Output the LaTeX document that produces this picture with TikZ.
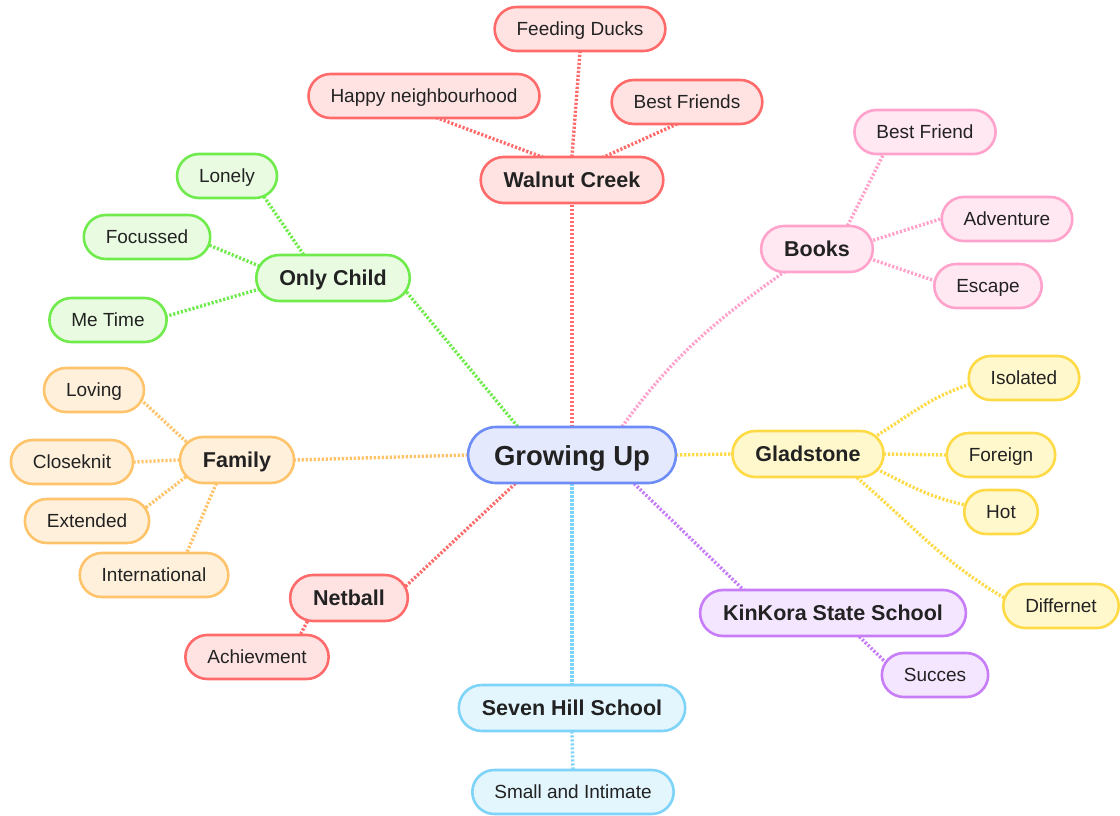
\documentclass[tikz,border=0pt]{standalone}
\usepackage{fontspec}
\setmainfont{Liberation Sans}
\usetikzlibrary{backgrounds}
\definecolor{rootline}{HTML}{6E8CF5}
\definecolor{rootfill}{HTML}{E5E9FD}
\definecolor{redline}{HTML}{FF6B6B}
\definecolor{redfill}{HTML}{FFE3E3}
\definecolor{pinkline}{HTML}{FFA3CC}
\definecolor{pinkfill}{HTML}{FFE8F2}
\definecolor{greenline}{HTML}{6FEB4C}
\definecolor{greenfill}{HTML}{E9FCE2}
\definecolor{orangeline}{HTML}{FFC46B}
\definecolor{orangefill}{HTML}{FFF0DB}
\definecolor{yellowline}{HTML}{FFDA47}
\definecolor{yellowfill}{HTML}{FFF8CC}
\definecolor{purpleline}{HTML}{C77DF7}
\definecolor{purplefill}{HTML}{F5E6FF}
\definecolor{cyanline}{HTML}{7DD3F8}
\definecolor{cyanfill}{HTML}{E3F6FE}
\definecolor{ink}{HTML}{222222}
\begin{document}
\begin{tikzpicture}[x=1pt,y=1pt]
    \tikzstyle{every node}=[rectangle,line width=2.6pt,text=ink]
    \tikzstyle{root}=[rounded corners=28pt,minimum height=56pt,inner xsep=26pt,text height=20pt,text depth=0pt,font=\fontsize{27.5}{30}\selectfont\bfseries,draw=rootline,fill=rootfill]
    \tikzstyle{topic}=[rounded corners=23pt,minimum height=46pt,inner xsep=23pt,text height=15.5pt,text depth=0pt,font=\fontsize{21.5}{24}\selectfont\bfseries]
    \tikzstyle{leaf}=[rounded corners=22pt,minimum height=44pt,inner xsep=22pt,text height=13.8pt,text depth=0pt,font=\fontsize{19}{22}\selectfont]
    \tikzstyle{tred}=[draw=redline,fill=redfill]
    \tikzstyle{tpink}=[draw=pinkline,fill=pinkfill]
    \tikzstyle{tgreen}=[draw=greenline,fill=greenfill]
    \tikzstyle{torange}=[draw=orangeline,fill=orangefill]
    \tikzstyle{tyellow}=[draw=yellowline,fill=yellowfill]
    \tikzstyle{tpurple}=[draw=purpleline,fill=purplefill]
    \tikzstyle{tcyan}=[draw=cyanline,fill=cyanfill]
    \tikzstyle{link}=[line width=3.4pt,dash pattern=on 2.2pt off 1.8pt,shorten <=-9pt,shorten >=-9pt]
    \useasboundingbox (0,0) rectangle (1120,-816);
    % centre
    \draw (572,-455) node [root] (gu) {Growing Up};
    % Walnut Creek
    \draw (572,-180) node [topic,tred] (wc) {Walnut Creek};
    \draw (580,-29) node [leaf,tred] (fd) {Feeding Ducks};
    \draw (424,-96) node [leaf,tred] (hn) {Happy neighbourhood};
    \draw (687,-102) node [leaf,tred] (bf) {Best Friends};
    % Books
    \draw (817,-249) node [topic,tpink] (bk) {Books};
    \draw (925,-132) node [leaf,tpink] (bfr) {Best Friend};
    \draw (1007,-219) node [leaf,tpink] (adv) {Adventure};
    \draw (988,-286) node [leaf,tpink] (esc) {Escape};
    % Only Child
    \draw (333,-278) node [topic,tgreen] (oc) {Only Child};
    \draw (227,-176) node [leaf,tgreen] (lon) {Lonely};
    \draw (147,-237) node [leaf,tgreen] (foc) {Focussed};
    \draw (108,-320) node [leaf,tgreen] (met) {Me Time};
    % Family
    \draw (237,-460) node [topic,torange] (fam) {Family};
    \draw (94,-390) node [leaf,torange] (lov) {Loving};
    \draw (72,-462) node [leaf,torange] (clo) {Closeknit};
    \draw (87,-521) node [leaf,torange] (ext) {Extended};
    \draw (154,-575) node [leaf,torange] (intl) {International};
    % Gladstone
    \draw (808,-454) node [topic,tyellow] (gl) {Gladstone};
    \draw (1024,-378) node [leaf,tyellow] (iso) {Isolated};
    \draw (1001,-455) node [leaf,tyellow] (frn) {Foreign};
    \draw (1001,-512) node [leaf,tyellow] (hot) {Hot};
    \draw (1061,-606) node [leaf,tyellow] (dif) {Differnet};
    % KinKora
    \draw (833,-613) node [topic,tpurple] (kk) {KinKora State School};
    \draw (935,-675) node [leaf,tpurple] (suc) {Succes};
    % Seven Hill
    \draw (572,-708) node [topic,tcyan] (sh) {Seven Hill School};
    \draw (573,-792) node [leaf,tcyan] (sai) {Small and Intimate};
    % Netball
    \draw (349,-598) node [topic,tred] (nb) {Netball};
    \draw (257,-657) node [leaf,tred] (ach) {Achievment};
    \begin{pgfonlayer}{background}
        \draw[link,redline] (gu.north) -- (wc.south);
        \draw[link,redline] (wc.north) -- (fd.south);
        \draw[link,redline] (wc.144) -- (hn.-54);
        \draw[link,redline] (wc.35) -- (bf.241);
        \draw[link,pinkline] (gu.30) to[out=55,in=215] (bk.center);
        \draw[link,pinkline] (bk.38) -- (bfr.209);
        \draw[link,pinkline] (bk.9) -- (adv.west);
        \draw[link,pinkline] (bk.-11) -- (esc.174);
        \draw[link,greenline] (gu.152) -- (oc.-14);
        \draw[link,greenline] (oc.141) -- (lon.-31);
        \draw[link,greenline] (oc.170) -- (foc.-8);
        \draw[link,greenline] (oc.189) -- (met.4);
        \draw[link,orangeline] (gu.west) -- (fam.east);
        \draw[link,orangeline] (fam.157) -- (lov.-15);
        \draw[link,orangeline] (fam.west) -- (clo.east);
        \draw[link,orangeline] (fam.201) -- (ext.15);
        \draw[link,orangeline] (fam.229) -- (intl.35);
        \draw[link,yellowline] (gu.east) -- (gl.west);
        \draw[link,yellowline] (gl.17) to[out=32,in=197] (iso.187);
        \draw[link,yellowline] (gl.east) -- (frn.west);
        \draw[link,yellowline] (gl.-14) to[out=-27,in=168] (hot.169);
        \draw[link,yellowline] (gl.-26) to[out=-40,in=150] (dif.171);
        \draw[link,purpleline] (gu.-25) -- (kk.165);
        \draw[link,purpleline] (kk.-42) -- (suc.162);
        \draw[link,cyanline] (gu.south) -- (sh.north);
        \draw[link,cyanline] (sh.south) -- (sai.north);
        \draw[link,redline] (gu.207) -- (nb.14);
        \draw[link,redline] (nb.210) -- (ach.28);
    \end{pgfonlayer}
\end{tikzpicture}
\end{document}
